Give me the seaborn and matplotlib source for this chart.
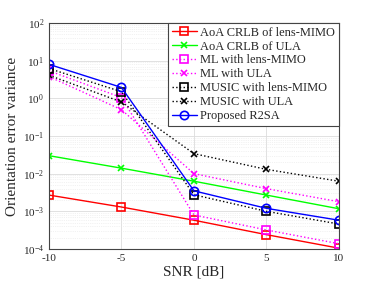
import numpy as np
import pandas as pd
import matplotlib
matplotlib.use("Agg")
import matplotlib.pyplot as plt
import seaborn as sns

snr = [-10, -5, 0, 5, 10]

crlb_lens = [2.7e-3, 1.3e-3, 5.8e-4, 2.4e-4, 1.05e-4]
crlb_ula = [3.0e-2, 1.4e-2, 6.3e-3, 2.7e-3, 1.17e-3]
ml_lens = [5.4, 1.05, 8.0e-4, 3.2e-4, 1.38e-4]
ml_ula = [3.8, 0.5, 1.0e-2, 4.0e-3, 1.8e-3]
music_lens = [6.2, 1.5, 2.75e-3, 1.0e-3, 4.6e-4]
music_ula = [4.1, 0.8, 3.4e-2, 1.3e-2, 6.3e-3]
r2sa = [8.0, 1.95, 3.5e-3, 1.2e-3, 5.8e-4]

series = [
    ("AoA CRLB of lens-MIMO", crlb_lens, "#ff0000", "s", "-"),
    ("AoA CRLB of ULA", crlb_ula, "#00ff00", "x", "-"),
    ("ML with lens-MIMO", ml_lens, "#ff00ff", "s", ":"),
    ("ML with ULA", ml_ula, "#ff00ff", "x", ":"),
    ("MUSIC with lens-MIMO", music_lens, "#000000", "s", ":"),
    ("MUSIC with ULA", music_ula, "#000000", "x", ":"),
    ("Proposed R2SA", r2sa, "#0000ff", "o", "-"),
]

sns.set_style("white")
plt.rcParams["font.family"] = ["Liberation Serif", "DejaVu Serif"]
plt.rcParams["mathtext.fontset"] = "stix"

fig = plt.figure(figsize=(3.74, 2.81), dpi=100)
ax = fig.add_axes([0.131, 0.114, 0.775, 0.804])

for name, vals, color, marker, ls in series:
    df = pd.DataFrame({"snr": snr, "val": vals})
    sns.lineplot(data=df, x="snr", y="val", ax=ax, color=color, marker=marker,
                 linestyle=ls, linewidth=1.0, markersize=6 if marker != "x" else 5,
                 markerfacecolor="none" if marker != "x" else color,
                 markeredgecolor=color, markeredgewidth=1.2, label=name)

ax.set_yscale("log")
ax.set_xlim(-10, 10)
ax.set_ylim(1e-4, 1e2)
ax.set_xticks(snr)
ax.set_xticklabels([str(s) for s in snr])
ax.grid(True, which="major", color="#dcdcdc", linewidth=0.6)
ax.grid(True, which="minor", color="#e6e6e6", linewidth=0.5, linestyle=":")
ax.tick_params(labelsize=8, direction="in", which="both", length=2)
ax.set_xlabel("SNR [dB]", fontsize=11, labelpad=2)
ax.set_ylabel("Orientation error variance", fontsize=11, labelpad=3)
for sp in ax.spines.values():
    sp.set_color("#444444")
    sp.set_linewidth(0.8)

leg = ax.legend(loc="upper right", fontsize=8.9, frameon=True, fancybox=False,
                edgecolor="#444444", framealpha=1, borderaxespad=0,
                handlelength=2.0, handletextpad=0.3, borderpad=0.3,
                labelspacing=0.15)
leg.get_frame().set_linewidth(0.8)

fig.savefig("out.png", dpi=100)
